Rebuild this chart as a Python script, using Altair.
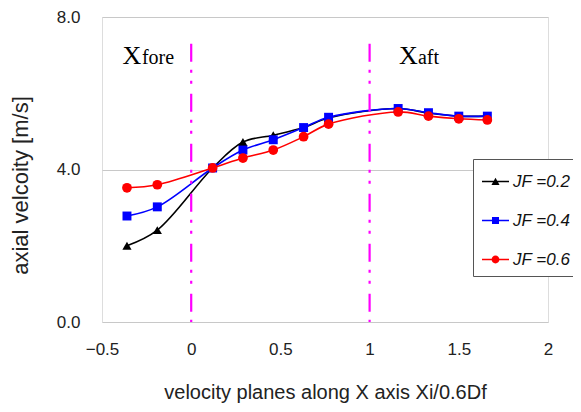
import altair as alt
import pandas as pd

# ---- data ----
x_pos = [-0.36, -0.19, 0.12, 0.29, 0.46, 0.63, 0.77, 1.16, 1.33, 1.50, 1.66]
v_02 = [2.00, 2.41, 4.04, 4.72, 4.90, 5.10, 5.35, 5.60, 5.48, 5.40, 5.40]
v_04 = [2.78, 3.02, 4.04, 4.51, 4.78, 5.10, 5.37, 5.60, 5.49, 5.40, 5.40]
v_06 = [3.52, 3.60, 4.04, 4.30, 4.51, 4.86, 5.19, 5.51, 5.40, 5.33, 5.30]
series_labels = ["JF =0.2", "JF =0.4", "JF =0.6"]
series_colors = ["#000000", "#0000ff", "#ff0000"]
point_shapes = ["triangle-up", "square", "circle"]
point_sizes = [85, 80, 95]

plane_x = [0, 1]          # X_fore / X_aft planes
plane_top = 7.3

ann_big = ["X", "X"]
ann_small = ["fore", "aft"]
ann_big_x = [-0.385, 1.165]
ann_small_x = [-0.276, 1.271]
ann_y = [6.77, 6.77]

x_ticks = [-0.5, 0, 0.5, 1, 1.5, 2]
y_ticks = [0, 4, 8]

# legend symbols: short line + marker (all drawn clockwise so they fill solidly)
legend_paths = [
    "M-1,-0.06H1V0.06H-1Z M-0.3,0.26L0,-0.28L0.3,0.26Z",
    "M-1,-0.06H1V0.06H-1Z M-0.26,-0.26H0.26V0.26H-0.26Z",
    "M-1,-0.06H1V0.06H-1Z M-0.29,0A0.29,0.29,0,1,1,0.29,0A0.29,0.29,0,1,1,-0.29,0Z",
]

rows = []
for lab, vals in zip(series_labels, [v_02, v_04, v_06]):
    for xv, yv in zip(x_pos, vals):
        rows.append({"x": xv, "v": yv, "series": lab})
df = pd.DataFrame(rows)

planes = pd.DataFrame({"x": plane_x, "top": [plane_top] * len(plane_x), "bottom": [0] * len(plane_x)})
ann = pd.DataFrame({"big": ann_big, "small": ann_small, "bx": ann_big_x, "sx": ann_small_x, "y": ann_y})

FONT = "Liberation Sans"
xscale = alt.Scale(domain=[-0.5, 2], nice=False, zero=False)
yscale = alt.Scale(domain=[0, 8], nice=False)

X = alt.X("x:Q", scale=xscale,
          axis=alt.Axis(values=x_ticks, format="~g", grid=False, ticks=False, domain=False,
                        labelFlush=False,
                        labelFontSize=17, labelPadding=19, labelColor="#222", labelFont=FONT,
                        title="velocity planes along X axis Xi/0.6Df", titleFontSize=20,
                        titleFont=FONT, titleFontWeight="normal", titleColor="#222",
                        titlePadding=25))
Y = alt.Y("v:Q", scale=yscale,
          axis=alt.Axis(values=y_ticks, format=".1f", grid=True, gridColor="#c8c8c8",
                        ticks=False, domain=False, labelFontSize=17, labelPadding=22,
                        labelColor="#222", labelFont=FONT,
                        title="axial velcoity [m/s]", titleFontSize=22, titleFont=FONT,
                        titleFontWeight="normal", titleColor="#222", titlePadding=24,
                        titleY=168))

base = alt.Chart(df)

# legend-only layer (own fill + shape scales): real data, pushed outside the clipped plot area
legend_layer = base.transform_calculate(xo="datum.x + 100").mark_point(
    filled=True, opacity=1, clip=True).encode(
    x=alt.X("xo:Q", scale=xscale), y=alt.Y("v:Q", scale=yscale),
    fill=alt.Fill("series:N", scale=alt.Scale(domain=series_labels, range=series_colors),
                  title=None,
                  legend=alt.Legend(orient="none", legendX=371, legendY=142,
                                    fillColor="white", strokeColor="#555", padding=8,
                                    symbolSize=729, rowPadding=16, labelOffset=3,
                                    labelFont=FONT, labelFontSize=17,
                                    labelFontStyle="italic", labelColor="#111")),
    shape=alt.Shape("series:N", scale=alt.Scale(domain=series_labels, range=legend_paths),
                    title=None))

layers = []
for lab, col in zip(series_labels, series_colors):
    layers.append(base.transform_filter(alt.datum.series == lab).mark_line(
        interpolate="catmull-rom", strokeWidth=1.6, color=col).encode(x=X, y=Y))

for lab, col, shp, sz in zip(series_labels, series_colors, point_shapes, point_sizes):
    layers.append(base.transform_filter(alt.datum.series == lab).mark_point(
        shape=shp, filled=True, size=sz, opacity=1, color=col).encode(x="x:Q", y="v:Q"))

rules = alt.Chart(planes).mark_rule(color="#ff00ff", strokeWidth=2.2,
                                     strokeDash=[18, 8, 3, 8, 3, 10]).encode(
    x="x:Q", y="top:Q", y2="bottom:Q")

t_big = alt.Chart(ann).mark_text(font="Liberation Serif", fontSize=26, align="left",
                                  baseline="alphabetic", color="#000").encode(
    x="bx:Q", y="y:Q", text="big:N")
t_small = alt.Chart(ann).mark_text(font="Liberation Serif", fontSize=20, align="left",
                                    baseline="alphabetic", color="#000").encode(
    x="sx:Q", y="y:Q", text="small:N")

chart = alt.layer(*layers, rules, t_big, t_small, legend_layer).properties(
    width=446, height=305,
    autosize=alt.AutoSizeParams(type="none"),
    padding={"left": 94, "top": 9, "right": 25, "bottom": 82},
).configure_view(stroke="#9a9a9a", strokeWidth=1.2).configure(background="white")

chart.save("out.html", embed_options={"renderer": "svg", "actions": False})
